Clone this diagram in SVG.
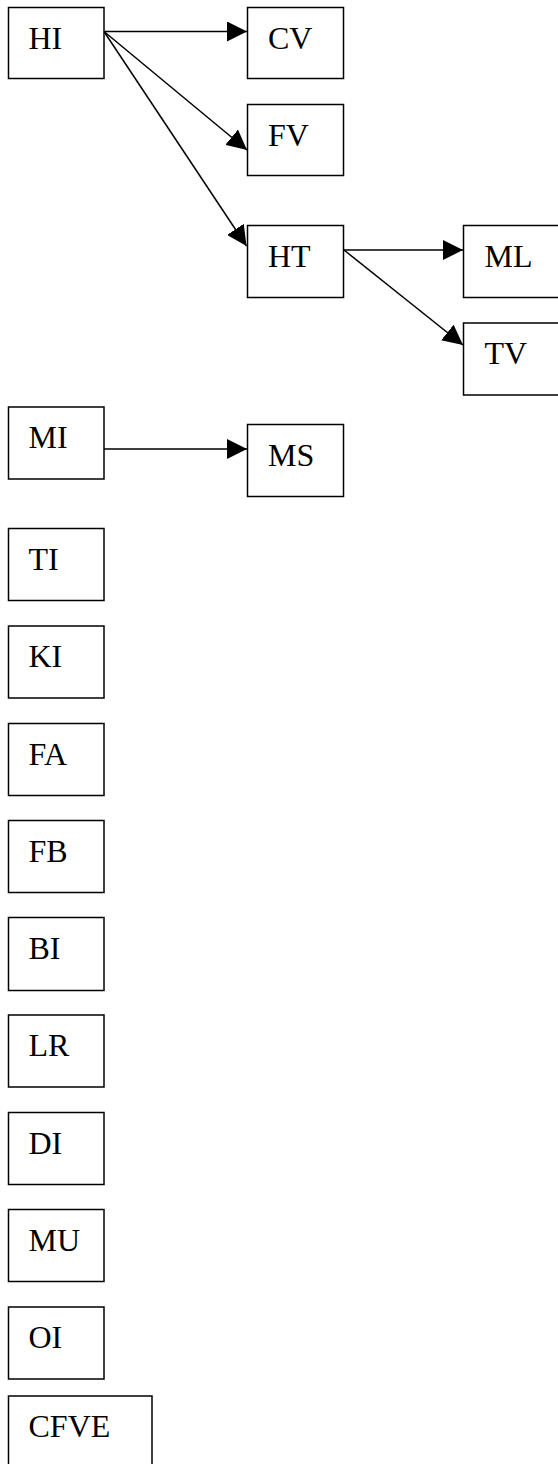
<svg xmlns="http://www.w3.org/2000/svg" width="558" height="1464" viewBox="0 0 558 1464">
<defs>
<style>
.box{fill:#fff;stroke:#000;stroke-width:1.5}
.lbl{font-family:"Liberation Serif","Times New Roman",serif;font-size:32px;fill:#000}
.edge{stroke:#000;stroke-width:1.5;fill:none}
</style>
<marker id="ah" markerUnits="userSpaceOnUse" markerWidth="20" markerHeight="20" refX="20" refY="10" orient="auto">
<path d="M0,0 L20,10 L0,20 z" fill="#000"/>
</marker>
</defs>
<rect width="558" height="1464" fill="#fff"/>
<g id="connectors">
<line class="edge" x1="104" y1="31.5" x2="247" y2="31.5" marker-end="url(#ah)"/>
<line class="edge" x1="104" y1="31.5" x2="247" y2="150" marker-end="url(#ah)"/>
<line class="edge" x1="104" y1="31.5" x2="246.5" y2="246" marker-end="url(#ah)"/>
<line class="edge" x1="344" y1="250" x2="463" y2="250" marker-end="url(#ah)"/>
<line class="edge" x1="344" y1="250" x2="463" y2="345" marker-end="url(#ah)"/>
<line class="edge" x1="104" y1="449" x2="247" y2="449" marker-end="url(#ah)"/>
</g>
<g id="HI"><rect class="box" x="8.5" y="7.5" width="95.5" height="71"/><text class="lbl" x="28.5" y="48.5">HI</text></g>
<g id="CV"><rect class="box" x="247.5" y="7.5" width="96" height="71"/><text class="lbl" x="268" y="48.5">CV</text></g>
<g id="FV"><rect class="box" x="247.5" y="104.5" width="96" height="71"/><text class="lbl" x="268" y="145.5">FV</text></g>
<g id="HT"><rect class="box" x="247.5" y="225.5" width="96" height="72"/><text class="lbl" x="268" y="266.5">HT</text></g>
<g id="ML"><rect class="box" x="463.5" y="225.5" width="100" height="72"/><text class="lbl" x="484.5" y="266.5">ML</text></g>
<g id="TV"><rect class="box" x="463.5" y="323" width="100" height="72"/><text class="lbl" x="484.5" y="364">TV</text></g>
<g id="MI"><rect class="box" x="8.5" y="407" width="95.5" height="72"/><text class="lbl" x="28.5" y="448">MI</text></g>
<g id="MS"><rect class="box" x="247.5" y="424.5" width="96" height="72"/><text class="lbl" x="268" y="466">MS</text></g>
<g id="TI"><rect class="box" x="8.5" y="528.5" width="95.5" height="72"/><text class="lbl" x="28.5" y="569.5">TI</text></g>
<g id="KI"><rect class="box" x="8.5" y="626" width="95.5" height="72"/><text class="lbl" x="28.5" y="667">KI</text></g>
<g id="FA"><rect class="box" x="8.5" y="723.5" width="95.5" height="72"/><text class="lbl" x="28.5" y="764.5">FA</text></g>
<g id="FB"><rect class="box" x="8.5" y="820.5" width="95.5" height="72"/><text class="lbl" x="28.5" y="861.5">FB</text></g>
<g id="BI"><rect class="box" x="8.5" y="917.5" width="95.5" height="73"/><text class="lbl" x="28.5" y="958.5">BI</text></g>
<g id="LR"><rect class="box" x="8.5" y="1015" width="95.5" height="72"/><text class="lbl" x="28.5" y="1056">LR</text></g>
<g id="DI"><rect class="box" x="8.5" y="1112.5" width="95.5" height="72"/><text class="lbl" x="28.5" y="1153.5">DI</text></g>
<g id="MU"><rect class="box" x="8.5" y="1209.5" width="95.5" height="72"/><text class="lbl" x="28.5" y="1250.5">MU</text></g>
<g id="OI"><rect class="box" x="8.5" y="1307" width="95.5" height="72"/><text class="lbl" x="28.5" y="1348">OI</text></g>
<g id="CFVE"><rect class="box" x="8.5" y="1396" width="143.5" height="80"/><text class="lbl" x="28.5" y="1437">CFVE</text></g>
</svg>
